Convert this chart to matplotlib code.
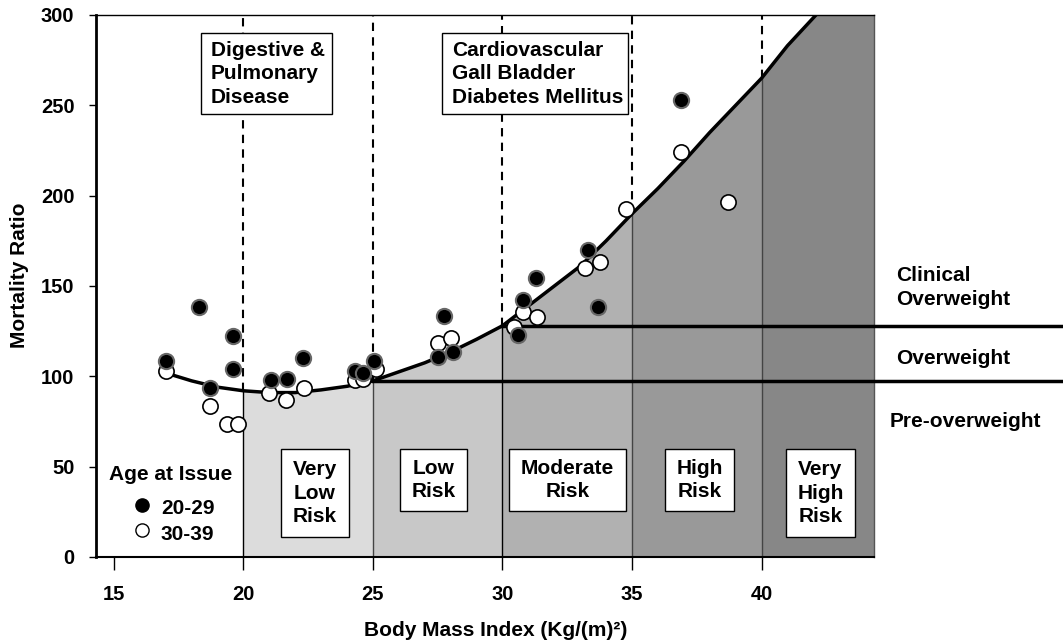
import numpy as np
import matplotlib
matplotlib.use("Agg")
import matplotlib.pyplot as plt

plt.rcParams['font.family'] = ['Liberation Sans', 'DejaVu Sans']
plt.rcParams['font.weight'] = 'bold'
plt.rcParams['axes.labelweight'] = 'bold'

# Fitted mortality curve
curve_bmi = [17.2, 18, 19, 20, 21, 22, 23, 24, 25, 26, 27, 28, 29, 30,
             31, 32, 33, 34, 35, 36, 37, 38, 39, 40, 41, 42.1]
curve_mr = [101, 97.5, 94, 92, 91, 91, 92.5, 94.5, 97.5, 102.5, 107.5, 113.5, 120.5, 128,
            139, 150, 161, 175, 190, 204, 219, 235, 250, 265, 283, 300]

# Age at issue 20-29 (filled)
young_bmi = [17.0, 18.3, 18.7, 19.6, 19.6, 21.05, 21.7, 22.3, 24.3, 24.6, 25.05,
             27.5, 27.75, 28.1, 30.6, 30.8, 31.3, 33.3, 33.7, 36.9]
young_mr = [108.5, 138.4, 93.6, 122.4, 104, 98, 98.6, 110.2, 103, 102, 108.5,
            110.6, 133.2, 113.2, 123, 142, 154.7, 170, 138.2, 253]

# Age at issue 30-39 (open)
old_bmi = [17.0, 18.7, 19.35, 19.8, 21.0, 21.65, 22.35, 24.3, 24.6, 25.1, 27.5, 28.0,
           30.45, 30.8, 31.35, 33.2, 33.75, 34.75, 36.9, 38.7]
old_mr = [103, 83.6, 73.6, 73.6, 90.8, 86.9, 93.6, 98, 98.6, 104, 118.3, 121,
          127.2, 135.8, 132.7, 160, 163.2, 192.5, 224.4, 196.7]

xtick_vals = [15, 20, 25, 30, 35, 40]
ytick_vals = [0, 50, 100, 150, 200, 250, 300]

bounds = [20, 25, 30, 35, 40]
risk_labels = ['Very\nLow\nRisk', 'Low\nRisk', 'Moderate\nRisk', 'High\nRisk', 'Very\nHigh\nRisk']
shades = ['#dcdcdc', '#c8c8c8', '#b1b1b1', '#999999', '#878787']
overweight_level = 97.5
clinical_level = 128

xmin, xmax = 14.31, 44.34

fig = plt.figure(figsize=(10.63, 6.43), dpi=100)
ax = fig.add_axes([96 / 1063, 86 / 643, 778 / 1063, 542 / 643])

# shaded risk zones under the curve
edges = bounds + [xmax]
for i in range(len(bounds)):
    a, b = edges[i], edges[i + 1]
    xs = np.linspace(a, b, 60)
    ys = np.interp(xs, curve_bmi, curve_mr, right=300)
    ax.fill_between(xs, 0, ys, color=shades[i], lw=0, zorder=1)

# vertical separators: solid below the curve, dashed above
for i, b in enumerate(bounds):
    yc = np.interp(b, curve_bmi, curve_mr)
    ax.plot([b, b], [0, yc], color='black' if i in (0, 2) else '#444444', lw=1, zorder=2)
    ax.plot([b, b], [yc, 300], color='black', lw=1.5, ls=(0, (4, 3)), zorder=2)

# weight class lines extending past the axes
ax.plot([25, 52], [overweight_level] * 2, color='black', lw=2.5, clip_on=False, zorder=3)
ax.plot([30, 52], [clinical_level] * 2, color='black', lw=2.5, clip_on=False, zorder=3)

ax.plot(curve_bmi, curve_mr, color='black', lw=2.5, zorder=3, solid_capstyle='round')

ax.scatter(old_bmi, old_mr, s=120, facecolor='white', edgecolor='black', lw=1.2, zorder=4)
ax.scatter(young_bmi, young_mr, s=120, facecolor='black', edgecolor='#666666', lw=1.5, zorder=5)

# risk boxes
risk_boxes = [(21.44, 24.08, 11.2), (26.05, 28.64, 25.5), (30.26, 34.77, 25.5),
              (36.27, 38.95, 25.5), (40.93, 43.61, 11.2)]
for (x0, x1, y0), lab in zip(risk_boxes, risk_labels):
    ax.add_patch(plt.Rectangle((x0, y0), x1 - x0, 59.6 - y0, facecolor='white',
                               edgecolor='black', lw=1, zorder=6))
    ax.text((x0 + x1) / 2, (y0 + 59.6) / 2, lab, ha='center', va='center',
            fontsize=15, linespacing=1.3, zorder=7)

# disease boxes at top
for x0, x1, lab in [(18.35, 23.41, 'Digestive &\nPulmonary\nDisease'),
                    (27.68, 34.86, 'Cardiovascular\nGall Bladder\nDiabetes Mellitus')]:
    ax.add_patch(plt.Rectangle((x0, 245.2), x1 - x0, 45, facecolor='white',
                               edgecolor='black', lw=1, zorder=6))
    ax.text(x0 + 0.38, 267.5, lab, ha='left', va='center', fontsize=15,
            linespacing=1.3, zorder=7)

# legend
ax.text(14.82, 45.4, 'Age at Issue', fontsize=15, ha='left', va='center', zorder=7)
ax.plot(16.08, 28.8, 'o', ms=9.5, mfc='black', mec='black', mew=1, zorder=7)
ax.plot(16.08, 14.9, 'o', ms=9.5, mfc='white', mec='black', mew=1, zorder=7)
ax.text(16.81, 26.6, '20-29', fontsize=15, ha='left', va='center', zorder=7)
ax.text(16.81, 12.2, '30-39', fontsize=15, ha='left', va='center', zorder=7)

# right side labels
fig.text(896 / 1063, 1 - 287.5 / 643, 'Clinical\nOverweight', fontsize=15,
         ha='left', va='center', linespacing=1.3)
fig.text(896 / 1063, 1 - 358 / 643, 'Overweight', fontsize=15, ha='left', va='center')
fig.text(890 / 1063, 1 - 421.7 / 643, 'Pre-overweight', fontsize=15, ha='left', va='center')

ax.set_xlim(xmin, xmax)
ax.set_ylim(0, 300)
ax.set_xticks(xtick_vals)
ax.set_xticklabels([str(v) for v in xtick_vals], fontsize=14.5, fontweight='bold')
ax.set_yticks(ytick_vals)
ax.set_yticklabels([str(v) for v in ytick_vals], fontsize=14.5, fontweight='bold')
ax.tick_params(axis='x', direction='out', length=9.4, width=1, pad=11)
ax.tick_params(axis='y', direction='out', length=5, width=1, pad=10.5)

ax.spines['left'].set_linewidth(2)
ax.spines['bottom'].set_linewidth(1.5)
ax.spines['top'].set_linewidth(1)
ax.spines['right'].set_linewidth(1)
ax.spines['right'].set_color('#555555')

ax.set_xlabel('Body Mass Index (Kg/(m)²)', fontsize=15, fontweight='bold', va='center')
ax.xaxis.set_label_coords(0.514, -0.135)
ax.set_ylabel('Mortality Ratio', fontsize=15, fontweight='bold', va='center')
ax.yaxis.set_label_coords(-0.0977, 0.52)

fig.savefig('out.png', dpi=100)
